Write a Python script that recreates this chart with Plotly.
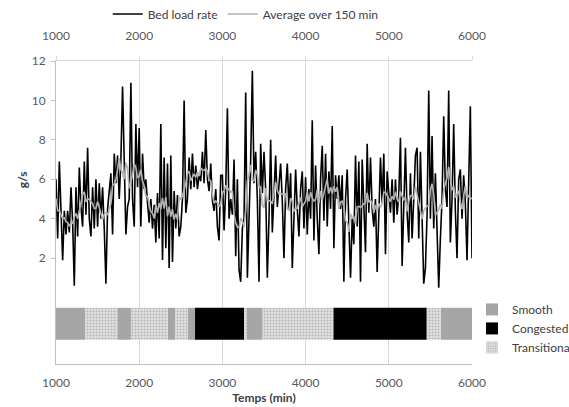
import pandas as pd
import plotly.graph_objects as go

# Bed load rate sampled every 20 minutes from t = 1000 min to t = 6000 min (g/s)
t_start = 1000
t_step = 20
bed_load = [
    # 1000 - 1980
    6.0, 3.0, 6.9, 4.2, 1.9, 4.4, 3.2, 4.4, 3.3, 5.6,
    3.8, 0.6, 5.6, 3.1, 6.6, 4.6, 3.6, 6.9, 4.2, 7.6,
    4.0, 3.1, 5.6, 3.5, 6.0, 3.6, 5.8, 4.0, 5.6, 3.5,
    0.7, 4.5, 5.5, 6.3, 3.2, 7.3, 5.8, 7.2, 5.0, 7.0,
    10.7, 6.5, 3.2, 4.6, 5.0, 10.9, 5.0, 3.6, 8.8, 5.6,
    # 2000 - 2980
    8.6, 3.6, 7.3, 5.5, 6.0, 4.8, 3.8, 5.0, 3.5, 4.7,
    2.8, 5.3, 3.0, 8.8, 1.9, 7.1, 2.5, 6.8, 1.5, 7.2,
    1.8, 5.4, 3.5, 5.2, 3.1, 3.6, 5.0, 10.0, 4.3, 5.0,
    7.1, 5.5, 7.3, 5.6, 6.7, 5.5, 6.2, 5.9, 7.4, 5.8,
    8.5, 6.0, 5.4, 6.8, 4.9, 4.4, 5.5, 3.6, 2.9, 6.2,
    # 3000 - 3980
    6.2, 3.4, 5.5, 9.6, 4.0, 5.0, 4.2, 7.0, 2.1, 6.0,
    1.4, 0.8, 3.5, 4.0, 10.4, 1.0, 4.0, 7.0, 11.5, 5.8,
    7.4, 5.0, 0.8, 7.8, 5.3, 7.4, 5.5, 1.0, 4.0, 8.0,
    3.3, 5.2, 7.2, 4.6, 6.0, 6.8, 4.9, 2.0, 5.5, 6.8,
    4.5, 6.3, 1.5, 4.2, 6.5, 4.5, 3.1, 5.5, 6.4, 3.5,
    # 4000 - 4980
    6.1, 3.2, 5.5, 4.0, 9.0, 2.9, 6.7, 4.0, 2.2, 6.0,
    7.7, 3.9, 7.3, 3.6, 6.4, 4.5, 8.7, 2.5, 6.2, 5.0,
    6.2, 4.5, 6.2, 0.8, 5.0, 6.5, 3.3, 1.0, 4.0, 2.7,
    7.2, 3.6, 6.9, 0.8, 7.0, 4.2, 2.3, 7.8, 4.3, 7.1,
    4.5, 3.6, 5.0, 1.3, 4.3, 7.1, 4.8, 7.3, 2.2, 6.4,
    # 5000 - 6000
    5.3, 4.3, 6.0, 3.8, 6.0, 4.2, 5.2, 8.1, 1.6, 5.0,
    7.6, 4.3, 2.8, 6.3, 3.0, 5.0, 7.2, 7.6, 3.0, 7.4,
    3.5, 0.7, 1.5, 4.2, 10.5, 4.0, 8.2, 3.5, 6.3, 3.7,
    0.5, 3.0, 5.0, 9.2, 5.5, 4.6, 10.5, 2.8, 5.0, 8.8,
    4.4, 2.0, 6.0, 6.5, 4.0, 6.2, 4.8, 1.9, 6.6, 9.7,
    2.0,
]
minutes = [t_start + i * t_step for i in range(len(bed_load))]

# 150-minute moving average of the bed load rate
avg_window = 150 // t_step
avg_150 = pd.Series(bed_load).rolling(window=avg_window, center=True, min_periods=1).mean()

# Flow regime periods (start, end in minutes)
regime_start = [1000, 1349, 1737, 1901, 2343, 2430, 2583, 2671, 3260, 3292, 3484, 4333, 5456, 5624]
regime_end = regime_start[1:] + [6000]
regime_kind = ["Smooth", "Transitional", "Smooth", "Transitional", "Smooth", "Transitional",
               "Smooth", "Congested", "Transitional", "Smooth", "Transitional", "Congested",
               "Transitional", "Smooth"]
regime_order = ["Smooth", "Congested", "Transitional"]

x_ticks = [1000, 2000, 3000, 4000, 5000, 6000]
y_ticks = [2, 4, 6, 8, 10, 12]

FONT = "Lato, 'Open Sans', sans-serif"
TICK_COLOR = "#595959"

fig = go.Figure()

fig.add_trace(go.Scatter(
    x=minutes, y=bed_load, mode="lines", name="Bed load rate",
    line=dict(color="#000000", width=1.6), legend="legend",
))
fig.add_trace(go.Scatter(
    x=minutes, y=avg_150, mode="lines", name="Average over 150 min",
    line=dict(color="#b3b3b3", width=1.6), legend="legend",
))

regime_style = {
    "Smooth": dict(color="#a6a6a6"),
    "Congested": dict(color="#000000"),
    "Transitional": dict(color="#d0d0d0",
                         pattern=dict(shape=".", fgcolor="#8a8a8a", bgcolor="#e2e2e2",
                                      size=3, solidity=0.4)),
}
band_center = -1.33
band_height = 1.62
for kind in regime_order:
    starts = [s for s, k in zip(regime_start, regime_kind) if k == kind]
    ends = [e for e, k in zip(regime_end, regime_kind) if k == kind]
    fig.add_trace(go.Bar(
        orientation="h",
        base=starts,
        x=[e - s for s, e in zip(starts, ends)],
        y=[band_center] * len(starts),
        width=band_height,
        name=kind,
        marker=dict(line=dict(width=0), **regime_style[kind]),
        legend="legend2",
        hoverinfo="skip",
    ))

# invisible trace to carry the top time axis
fig.add_trace(go.Scatter(x=[1000, 6000], y=[None, None], xaxis="x2", showlegend=False, hoverinfo="skip"))

fig.update_layout(
    width=569, height=407,
    margin=dict(l=56, r=97, t=61, b=43, autoexpand=False),
    paper_bgcolor="white", plot_bgcolor="white",
    font=dict(family=FONT, size=12, color=TICK_COLOR),
    barmode="overlay",
    xaxis=dict(
        range=[1000, 6000], tickvals=x_ticks, showgrid=True, gridcolor="#d9d9d9", gridwidth=1,
        showline=True, linecolor="#bfbfbf", linewidth=1, ticks="", zeroline=False,
        ticklabelstandoff=8,
        tickfont=dict(size=12, color=TICK_COLOR),
        title=dict(text="<b>Temps (min)</b>", font=dict(size=12, color="#404040"), standoff=2),
    ),
    xaxis2=dict(
        range=[1000, 6000], tickvals=x_ticks, overlaying="x", side="top", anchor="y",
        showgrid=False, showline=True, linecolor="#d9d9d9", linewidth=1,
        ticks="outside", ticklen=4, tickcolor="#d9d9d9", zeroline=False,
        ticklabelstandoff=11,
        tickfont=dict(size=12, color=TICK_COLOR),
    ),
    yaxis=dict(
        range=[-3.37, 12], tickvals=y_ticks, showgrid=False, zeroline=False,
        showline=True, linecolor="#bfbfbf", linewidth=1, ticks="outside", ticklen=4,
        tickcolor="#bfbfbf", ticklabelstandoff=3, tickfont=dict(size=12, color=TICK_COLOR),
    ),
    legend=dict(
        orientation="h", x=0.456, y=1.155, xanchor="center", yanchor="middle",
        font=dict(size=12, color="#404040"), bgcolor="rgba(0,0,0,0)",
        itemwidth=30, tracegroupgap=0,
    ),
    legend2=dict(
        x=1.0, y=0.228, xanchor="left", yanchor="top",
        font=dict(size=12, color="#404040"), bgcolor="rgba(0,0,0,0)",
        itemwidth=30, tracegroupgap=0, traceorder="normal",
    ),
    annotations=[dict(
        text="<b>g/s</b>", x=-0.082, y=6, xref="paper", yref="y", xanchor="center",
        textangle=-90, showarrow=False, font=dict(size=12, color="#404040"),
    )],
)

fig.write_html("out.html")
